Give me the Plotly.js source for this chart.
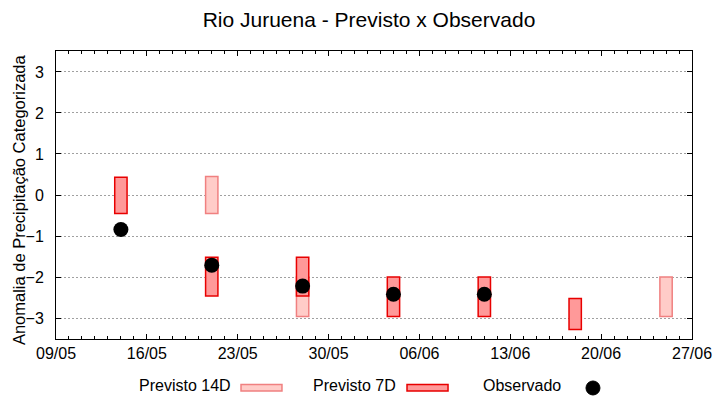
<!DOCTYPE html>
<html>
<head>
<meta charset="utf-8">
<script src="https://cdn.plot.ly/plotly-3.0.1.min.js"></script>
<style>html,body{margin:0;padding:0;background:#fff}#chart{width:720px;height:400px}</style>
</head>
<body>
<div id="chart"></div>
<script>
// Data
const dates14D = ['2024-05-21', '2024-05-28', '2024-06-25'];
const low14D   = [-0.45, -2.96, -2.96];
const high14D  = [0.45, -2.0, -2.0];

const dates7D = ['2024-05-14', '2024-05-21', '2024-05-28', '2024-06-04', '2024-06-11', '2024-06-18'];
const low7D   = [-0.45, -2.46, -2.46, -2.96, -2.96, -3.28];
const high7D  = [0.43, -1.52, -1.52, -2.0, -2.0, -2.52];

const datesObs = ['2024-05-14', '2024-05-21', '2024-05-28', '2024-06-04', '2024-06-11'];
const valuesObs = [-0.84, -1.71, -2.22, -2.42, -2.42];

const yTicks = [-3, -2, -1, 0, 1, 2, 3];
const yTitle = 'Anomalia de Precipitação Categorizada';
const DAY = 86400000;
const FONT = 'Liberation Sans, Arial, sans-serif';

const c14Fill = '#ffccc8', c14Line = '#f08080';
const c7Fill = '#ff9999', c7Line = '#e80000';

const traces = [
  {
    type: 'bar', name: 'Previsto 14D', x: dates14D,
    base: low14D, y: high14D.map((h, i) => h - low14D[i]),
    width: 0.95 * DAY,
    marker: {color: c14Fill, line: {color: c14Line, width: 1.5}},
    hoverinfo: 'x+y'
  },
  {
    type: 'bar', name: 'Previsto 7D', x: dates7D,
    base: low7D, y: high7D.map((h, i) => h - low7D[i]),
    width: 0.95 * DAY,
    marker: {color: c7Fill, line: {color: c7Line, width: 1.5}},
    hoverinfo: 'x+y'
  },
  {
    type: 'scatter', mode: 'markers', name: 'Observado', x: datesObs, y: valuesObs,
    marker: {color: '#000', size: 15, symbol: 'circle'}
  }
];

const layout = {
  width: 720, height: 400,
  margin: {l: 56, r: 28, t: 51, b: 61},
  paper_bgcolor: '#fff', plot_bgcolor: '#fff',
  barmode: 'overlay',
  showlegend: false,
  font: {family: FONT, size: 16, color: '#000'},
  title: {text: 'Rio Juruena - Previsto x Observado', x: 0.5125, xanchor: 'center', y: 0.95, yanchor: 'middle',
          font: {family: FONT, size: 21, color: '#000'}},
  xaxis: {
    type: 'date', range: ['2024-05-09', '2024-06-27'],
    tick0: '2024-05-09', dtick: 7 * DAY, tickformat: '%d/%m',
    ticks: 'inside', ticklen: 5, tickcolor: '#000', tickwidth: 1,
    minor: {dtick: DAY, tick0: '2024-05-09', ticks: 'inside', ticklen: 3, tickcolor: '#000', showgrid: false},
    showgrid: false, zeroline: false,
    showline: true, linecolor: '#000', linewidth: 1, mirror: 'allticks',
    tickfont: {family: FONT, size: 16, color: '#000'}
  },
  yaxis: {
    range: [-3.51, 3.51], tickvals: yTicks,
    ticks: 'inside', ticklen: 5, tickcolor: '#000', tickwidth: 1,
    showgrid: true, gridcolor: '#a0a0a0', griddash: '2px,2px', gridwidth: 1,
    zeroline: false,
    showline: true, linecolor: '#000', linewidth: 1, mirror: 'allticks',
    tickfont: {family: FONT, size: 16, color: '#000'},
    ticklabelstandoff: 8
  },
  annotations: [
    {text: yTitle, xref: 'paper', yref: 'paper', x: -0.058, y: 0.4826, xanchor: 'center', yanchor: 'middle', textangle: -90, showarrow: false, font: {family: FONT, size: 16.5, color: '#000'}},
    {text: 'Previsto 14D', xref: 'paper', yref: 'paper', x: 0.2783, y: -0.163, xanchor: 'right', yanchor: 'middle', showarrow: false, font: {family: FONT, size: 16, color: '#000'}},
    {text: 'Previsto 7D', xref: 'paper', yref: 'paper', x: 0.5377, y: -0.163, xanchor: 'right', yanchor: 'middle', showarrow: false, font: {family: FONT, size: 16, color: '#000'}},
    {text: 'Observado', xref: 'paper', yref: 'paper', x: 0.7972, y: -0.163, xanchor: 'right', yanchor: 'middle', showarrow: false, font: {family: FONT, size: 16, color: '#000'}}
  ],
  shapes: [
    {type: 'rect', xref: 'paper', yref: 'paper', x0: 0.2909, x1: 0.3553, y0: -0.158, y1: -0.1806, fillcolor: c14Fill, line: {color: c14Line, width: 1.5}},
    {type: 'rect', xref: 'paper', yref: 'paper', x0: 0.5519, x1: 0.6164, y0: -0.158, y1: -0.1806, fillcolor: c7Fill, line: {color: c7Line, width: 1.5}},
    {type: 'circle', xref: 'paper', yref: 'paper', x0: 0.8333, x1: 0.8553, y0: -0.1458, y1: -0.1944, fillcolor: '#000', line: {color: '#000', width: 1}}
  ]
};

Plotly.newPlot('chart', traces, layout, {displayModeBar: false, staticPlot: true});
</script>
</body>
</html>
